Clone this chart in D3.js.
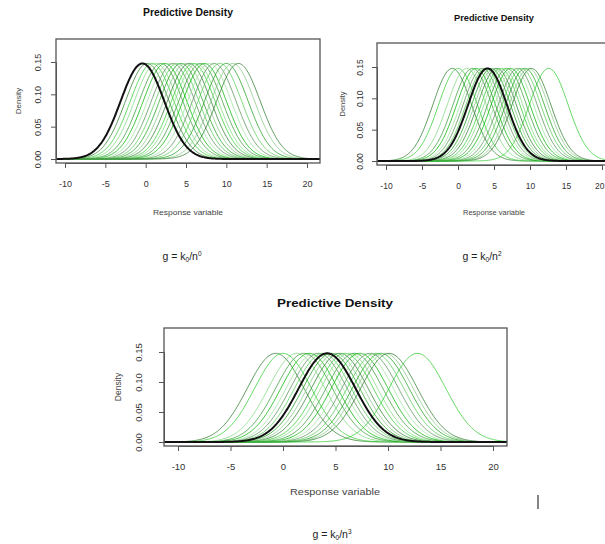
<!DOCTYPE html>
<html><head><meta charset="utf-8">
<script src="https://cdn.jsdelivr.net/npm/d3@7"></script>
<style>body{margin:0;background:#fff}svg{display:block;font-family:"Liberation Sans",Arial,sans-serif}</style>
</head><body><svg id="c" width="605" height="544"></svg>
<script>
// ---- data ----
const xTicks = [-10, -5, 0, 5, 10, 15, 20];
const xTickLabels = ["-10", "-5", "0", "5", "10", "15", "20"];
const yTicks = [0, 0.05, 0.10, 0.15];
const yTickLabels = ["0.00", "0.05", "0.10", "0.15"];
const titles = ["Predictive Density", "Predictive Density", "Predictive Density"];
const xLabel = "Response variable";
const yLabel = "Density";
const captionPowers = ["0", "2", "3"];
const curveSD = 2.7;
const blackMeans = [-0.4, 4.1, 4.2];
const greenMeans1 = [0.2, 0.8, 1.3, 1.9, 2.4, 2.9, 3.4, 3.9, 4.4, 4.9, 5.4, 5.9, 6.3, 6.8, 7.3, 7.9, 8.5, 9.2, 10.0, 10.8, 11.5];
const greenMeans2 = [-0.8, 0.0, 1.2, 2.0, 2.5, 3.0, 3.4, 3.8, 4.6, 5.0, 5.4, 5.9, 6.3, 6.8, 7.3, 7.8, 8.3, 8.8, 9.3, 9.8, 10.2, 12.6];
const greenMeans3 = [-0.7, 0.0, 1.3, 2.0, 2.5, 3.0, 3.4, 3.8, 4.6, 5.0, 5.4, 5.9, 6.3, 6.8, 7.3, 7.8, 8.3, 8.8, 9.3, 9.7, 10.1, 12.8];
const greenPalette = ["#2f7d2f", "#33cc33", "#7fd97f", "#3a9a3a", "#00b400", "#9ee39e", "#5a8f5a", "#55cc55", "#1e9e1e", "#86c886"];

// ---- layout (positions/styles) ----
const panels = [
  {means: greenMeans1, black: blackMeans[0], x0: 65, x1: 307, bl: 56, br: 320, y0: 159, y15: 62, bt: 39, bb: 163,
   title: {x: 188, y: 16, fs: 10, len: 90}, tickFs: 9, ylab: {x: 38}, dens: {x: 21, y: 101}, xl: {y: 215, fs: 8, len: 70},
   cap: {x: 182, y: 260}},
  {means: greenMeans2, black: blackMeans[1], x0: 386, x1: 602, bl: 377, br: 625, y0: 161, y15: 67, bt: 43, bb: 165,
   title: {x: 494, y: 21, fs: 9.5, len: 80}, tickFs: 8.5, ylab: {x: 360}, dens: {x: 345, y: 104}, xl: {y: 215, fs: 7.5, len: 62},
   cap: {x: 482, y: 260}},
  {means: greenMeans3, black: blackMeans[2], x0: 178, x1: 493, bl: 164, br: 507, y0: 442, y15: 352, bt: 328, bb: 446,
   title: {x: 335, y: 307, fs: 11, len: 116}, tickFs: 9.5, ylab: {x: 139}, dens: {x: 121, y: 387}, xl: {y: 495, fs: 8.5, len: 90},
   cap: {x: 332, y: 538}}
];

const svg = d3.select("#c");
const W = +svg.attr("width");
const dnorm = (x, m, s) => Math.exp(-0.5 * ((x - m) / s) ** 2) / (s * Math.sqrt(2 * Math.PI));

panels.forEach((p, i) => {
  const x = d3.scaleLinear().domain([xTicks[0], xTicks[xTicks.length - 1]]).range([p.x0, p.x1]);
  const y = d3.scaleLinear().domain([0, 0.15]).range([p.y0, p.y15]);
  const g = svg.append("g");
  const clipId = "clip" + i;
  g.append("clipPath").attr("id", clipId).append("rect")
    .attr("x", p.bl).attr("y", p.bt).attr("width", p.br - p.bl).attr("height", p.bb - p.bt);
  const xs = d3.range(x.invert(p.bl), x.invert(p.br) + 0.1, 0.1);
  const line = d3.line().x(d => x(d[0])).y(d => y(d[1]));
  const cg = g.append("g").attr("clip-path", `url(#${clipId})`);
  p.means.forEach((m, j) => {
    cg.append("path").datum(xs.map(v => [v, dnorm(v, m, curveSD)]))
      .attr("d", line).attr("fill", "none")
      .attr("stroke", greenPalette[j % greenPalette.length]).attr("stroke-width", 0.9).attr("opacity", 0.85);
  });
  cg.append("path").datum(xs.map(v => [v, dnorm(v, p.black, curveSD)]))
    .attr("d", line).attr("fill", "none").attr("stroke", "#111").attr("stroke-width", 2);

  // box
  g.append("rect").attr("x", p.bl).attr("y", p.bt).attr("width", p.br - p.bl).attr("height", p.bb - p.bt)
    .attr("fill", "none").attr("stroke", "#555").attr("stroke-width", 1.3);

  // x axis
  const xa = d3.axisBottom(x).tickValues(xTicks).tickSize(5).tickFormat((d, k) => xTickLabels[k]);
  const xg = g.append("g").attr("transform", `translate(0,${p.bb})`).call(xa);
  xg.select(".domain").attr("stroke", "#555");
  xg.selectAll(".tick line").attr("stroke", "#555");
  xg.selectAll("text").attr("font-size", p.tickFs).attr("fill", "#333").attr("font-family", null)
    .attr("dy", null).attr("y", 24);
  // keep the right-most label inside the page
  xg.selectAll(".tick").each(function (d) {
    if (x(d) + 8 > W) {
      d3.select(this).select("text").attr("text-anchor", "end").attr("x", W - 1 - x(d));
    }
  });

  // y axis
  const ya = d3.axisLeft(y).tickValues(yTicks).tickSize(5).tickFormat((d, k) => yTickLabels[k]);
  const yg = g.append("g").attr("transform", `translate(${p.bl},0)`).call(ya);
  yg.select(".domain").attr("stroke", "#555");
  yg.selectAll(".tick line").attr("stroke", "#555");
  yg.selectAll(".tick text").attr("font-size", p.tickFs).attr("fill", "#333").attr("font-family", null)
    .attr("x", null).attr("dy", null).attr("text-anchor", "middle")
    .attr("transform", `translate(${p.ylab.x - p.bl + 3},0) rotate(-90)`);

  // labels
  g.append("text").attr("x", p.title.x).attr("y", p.title.y).attr("text-anchor", "middle")
    .attr("font-size", p.title.fs).attr("font-weight", "bold").attr("fill", "#111")
    .attr("textLength", p.title.len).attr("lengthAdjust", "spacingAndGlyphs").text(titles[i]);
  g.append("text").attr("x", p.title.x).attr("y", p.xl.y).attr("text-anchor", "middle")
    .attr("font-size", p.xl.fs).attr("fill", "#444")
    .attr("textLength", p.xl.len).attr("lengthAdjust", "spacingAndGlyphs").text(xLabel);
  g.append("text").attr("transform", `translate(${p.dens.x},${p.dens.y}) rotate(-90)`).attr("text-anchor", "middle")
    .attr("font-size", p.xl.fs).attr("fill", "#444").text(yLabel);
  const cap = g.append("text").attr("x", p.cap.x).attr("y", p.cap.y).attr("text-anchor", "middle")
    .attr("font-size", 10.5).attr("fill", "#222");
  cap.append("tspan").text("g = k");
  cap.append("tspan").attr("font-size", 6.5).attr("dy", 2).text("0");
  cap.append("tspan").attr("dy", -2).text("/n");
  cap.append("tspan").attr("font-size", 6.5).attr("dy", -4).text(captionPowers[i]);
});

// stray cursor mark at lower right
svg.append("line").attr("x1", 538).attr("x2", 538).attr("y1", 495).attr("y2", 509).attr("stroke", "#333").attr("stroke-width", 1.2);
</script>
</body></html>
